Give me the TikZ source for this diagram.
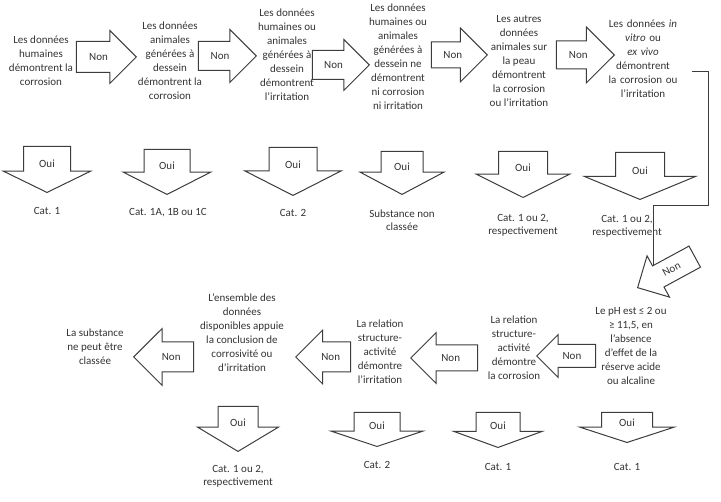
\documentclass[tikz,border=0pt]{standalone}
\usepackage{fontspec}
\setmainfont{Carlito}
\usepackage{tikz}
\usetikzlibrary{shapes.arrows,arrows.meta,positioning}
\definecolor{lineGray}{HTML}{3C3C3C}
\definecolor{textGray}{HTML}{333333}
\tikzset{
  %% Question and result texts
  qText/.style={align=center, font=\fontsize{11}{14}\selectfont, text=textGray, inner sep=1pt},
  catText/.style={align=center, font=\fontsize{11}{13}\selectfont, text=textGray, inner sep=1pt},
  %% Block arrows
  blockArrow/.style={single arrow, draw=lineGray, line width=1pt, fill=white,
    font=\fontsize{11}{13}\selectfont, text=textGray, text height=7pt, text depth=0pt},
  %% Non: #1 = inner ysep, #2 = head extend, #3 = length
  nonArrow/.style n args={3}{blockArrow, inner xsep=1pt, inner ysep=#1,
    single arrow head extend=#2, single arrow tip angle=90, minimum height=#3},
  %% Oui: #1 = body width, #2 = head extend, #3 = tip angle, #4 = length
  ouiArrow/.style n args={4}{blockArrow, shape border rotate=270, align=center,
    text width=#1, inner xsep=0pt, inner ysep=3pt,
    single arrow head extend=#2, single arrow tip angle=#3, minimum height=#4},
  %% Connector
  flow/.style={-{Straight Barb[length=4pt,width=7pt]}, draw=lineGray, line width=1pt},
}
\begin{document}
\begin{tikzpicture}[x=1pt, y=-1pt]
\useasboundingbox (0,0) rectangle (721,502);

%% First row: questions
\node[qText] (t1) at (41,61)  {Les données\\humaines\\démontrent la\\corrosion};
\node[qText] (t2) at (170,61) {Les données\\animales\\générées à\\dessein\\démontrent la\\corrosion};
\node[qText] (t3) at (287,55) {Les données\\humaines ou\\animales\\générées à\\dessein\\démontrent\\l’irritation};
\node[qText] (t4) at (398,57) {Les données\\humaines ou\\animales\\générées à\\dessein ne\\démontrent\\ni corrosion\\ni irritation};
\node[qText] (t5) at (519,61) {Les autres\\données\\animales sur\\la peau\\démontrent\\la corrosion\\ou l’irritation};
\node[qText, text width=96pt] (t6) at (643,58.5) {Les données \emph{in}\\\emph{vitro} ou\\\emph{ex vivo}\\démontrent\\la corrosion ou\\l’irritation};

\node[nonArrow={11.5pt}{11pt}{60pt}, anchor=tip] (n1) at (137,57) {Non};
\node[nonArrow={10.5pt}{12pt}{58pt}, anchor=tip] (n2) at (257,56) {Non};
\node[nonArrow={10.5pt}{11pt}{57pt}, anchor=tip] (n3) at (370,65) {Non};
\node[nonArrow={9pt}{14pt}{56pt}, anchor=tip]    (n4) at (488,55) {Non};
\node[nonArrow={10pt}{14pt}{58pt}, anchor=tip]   (n5) at (615,55) {Non};

%% First row: answers
\node[ouiArrow={46pt}{20pt}{128}{46pt}, anchor=tip]   (o1) at (47,193)  {Oui};
\node[ouiArrow={45pt}{21pt}{126}{45pt}, anchor=tip]   (o2) at (167,195) {Oui};
\node[ouiArrow={47pt}{24pt}{126}{48pt}, anchor=tip]   (o3) at (293,196) {Oui};
\node[ouiArrow={41pt}{21pt}{124}{43pt}, anchor=tip]   (o4) at (402,195) {Oui};
\node[ouiArrow={48pt}{22.5pt}{127}{46pt}, anchor=tip] (o5) at (523,198) {Oui};
\node[ouiArrow={48pt}{31pt}{135}{47pt}, anchor=tip]   (o6) at (640,200) {Oui};

\node[catText] (c1) at (47,211)    {Cat. 1};
\node[catText] (c2) at (168,213)   {Cat. 1A, 1B ou 1C};
\node[catText] (c3) at (293,213)   {Cat. 2};
\node[catText] (c4) at (402,220)   {Substance non\\classée};
\node[catText] (c5) at (523,225)   {Cat. 1 ou 2,\\respectivement};
\node[catText] (c6) at (627,226.5) {Cat. 1 ou 2,\\respectivement};

%% Link to the second row
\coordinate (bend) at (708,206);
\coordinate (cIn) at (653,281);
\draw[flow] ([yshift=-13.5pt]t6.east) -| (bend) -| (cIn);
\node[nonArrow={8pt}{11.5pt}{65pt}, shape border rotate=180, rotate=28.5, anchor=tip] (nD) at (637,288) {Non};

%% Second row: questions
\node[qText] (t7)  at (631,345.5) {Le pH est ≤ 2 ou\\≥ 11,5, en\\l’absence\\d’effet de la\\réserve acide\\ou alcaline};
\node[qText] (t8)  at (514,348)   {La relation\\structure-\\activité\\démontre\\la corrosion};
\node[qText] (t9)  at (380,352)   {La relation\\structure-\\activité\\démontre\\l’irritation};
\node[qText] (t10) at (242,333)   {L’ensemble des\\données\\disponibles appuie\\la conclusion de\\corrosivité ou\\d’irritation};
\node[qText] (t11) at (95,347)    {La substance\\ne peut être\\classée};

\node[nonArrow={7.5pt}{10pt}{59pt}, shape border rotate=180, anchor=tip]   (n6)  at (536,356) {Non};
\node[nonArrow={9pt}{12.5pt}{67pt}, shape border rotate=180, anchor=tip]   (n8)  at (410,358) {Non};
\node[nonArrow={11pt}{12pt}{55pt}, shape border rotate=180, anchor=tip]    (n9)  at (295,357) {Non};
\node[nonArrow={11pt}{13.5pt}{60pt}, shape border rotate=180, anchor=tip]  (n10) at (133,357) {Non};

%% Second row: answers
\node[ouiArrow={39pt}{20.5pt}{118}{45pt}, anchor=tip] (o7)  at (238,452) {Oui};
\node[ouiArrow={45pt}{22.5pt}{143}{34pt}, anchor=tip] (o8)  at (377,447) {Oui};
\node[ouiArrow={43pt}{22.5pt}{140}{35pt}, anchor=tip] (o9)  at (498,448) {Oui};
\node[ouiArrow={50pt}{21.5pt}{144}{30pt}, anchor=tip] (o10) at (627,443) {Oui};

\node[catText] (c7)  at (238,476) {Cat. 1 ou 2,\\respectivement};
\node[catText] (c8)  at (377,465) {Cat. 2};
\node[catText] (c9)  at (498,467) {Cat. 1};
\node[catText] (c10) at (627,467) {Cat. 1};

\end{tikzpicture}
\end{document}
